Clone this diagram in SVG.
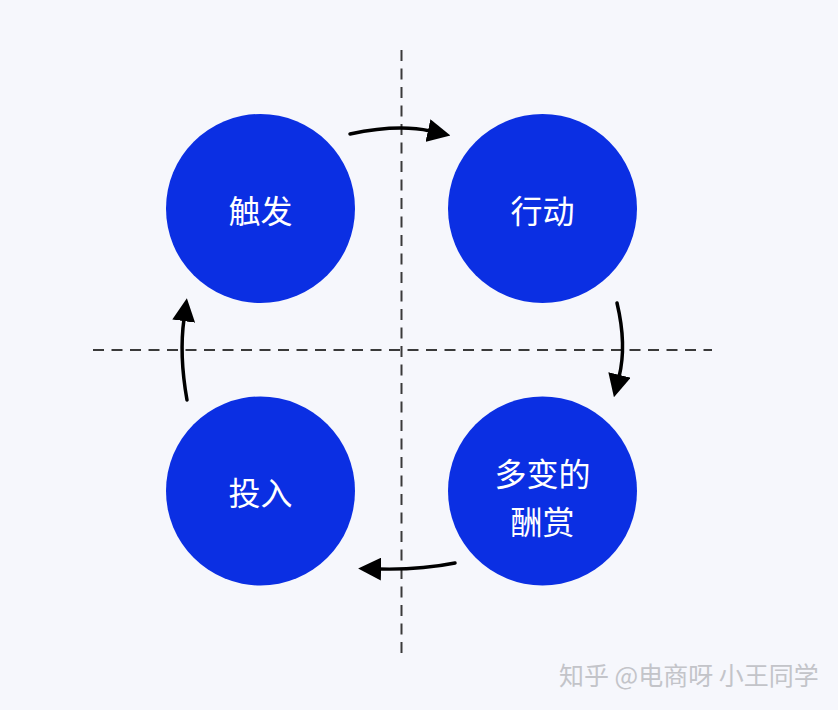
<svg xmlns="http://www.w3.org/2000/svg" width="838" height="710" viewBox="0 0 838 710">
<style>
.bg{fill:#f6f7fc}
.axis{fill:none;stroke:#3a3a3a;stroke-width:2;stroke-dasharray:11 7.5}
.node circle{fill:#0b2fe3}
.node text{fill:#ffffff;font-family:"Noto Sans CJK SC","Noto Sans",sans-serif;font-size:32px;font-weight:400;text-anchor:middle;dominant-baseline:central}
.arrow{fill:none;stroke:#000;stroke-width:3.5;stroke-linecap:round;marker-end:url(#head)}
.wm{fill:#c3c4c9;font-family:"Noto Sans CJK SC","Noto Sans",sans-serif;font-size:25px}
</style>
<defs>
<marker id="head" viewBox="0 0 22 22" refX="2" refY="11" markerWidth="23" markerHeight="23" markerUnits="userSpaceOnUse" orient="auto">
<path d="M0,0 L22,11 L0,22 Z" fill="#000"/>
</marker>
</defs>
<rect class="bg" x="0" y="0" width="838" height="710"/>
<g id="axes">
<line class="axis" x1="93" y1="350" x2="712" y2="350"/>
<line class="axis" x1="401.5" y1="50" x2="401.5" y2="655"/>
</g>
<g id="node-trigger" class="node">
<circle cx="260.5" cy="208.5" r="94.5"/>
<text x="260.5" y="209">触发</text>
</g>
<g id="node-action" class="node">
<circle cx="542.5" cy="208.5" r="94.5"/>
<text x="542.5" y="209">行动</text>
</g>
<g id="node-reward" class="node">
<circle cx="542.5" cy="491" r="94.5"/>
<text x="542.5" y="472">多变的</text>
<text x="542.5" y="520">酬赏</text>
</g>
<g id="node-invest" class="node">
<circle cx="260.5" cy="491" r="94.5"/>
<text x="260.5" y="491">投入</text>
</g>
<g id="connectors">
<path class="arrow" d="M350,134 Q398,124 430,131"/>
<path class="arrow" d="M617,303 Q627,345 619,377"/>
<path class="arrow" d="M455,563 Q420,570 379,569"/>
<path class="arrow" d="M187,400 Q179,355 184,319"/>
</g>
<text class="wm" x="559" y="685">知乎 @电商呀 小王同学</text>
</svg>
